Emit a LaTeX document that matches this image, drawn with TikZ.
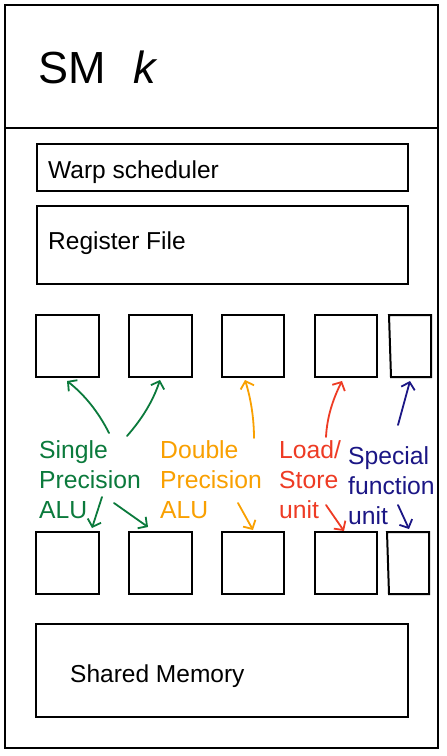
\documentclass[tikz,border=0pt]{standalone}
\usepackage{fontspec}
\setmainfont{Liberation Sans}
\usetikzlibrary{arrows.meta}
\definecolor{cgreen}{HTML}{0B7A3C}
\definecolor{corange}{HTML}{F9A001}
\definecolor{cred}{HTML}{EE3B24}
\definecolor{cnavy}{HTML}{1B1685}
\begin{document}
\begin{tikzpicture}[x=1pt,y=-1pt,
  box/.style={draw,line width=2pt,inner sep=0pt,outer sep=0pt,anchor=north west},
  sq/.style={draw,line width=2pt,inner sep=0pt,outer sep=0pt},
  boxtext/.style={anchor=base west,inner sep=0pt,font=\fontsize{24.5}{28}\selectfont},
  lbl/.style={anchor=base west,inner sep=0pt,align=left,font=\fontsize{24.7}{30}\selectfont},
  arr/.style={line width=1.8pt,line cap=round,-{Straight Barb[length=6.5pt,width=14pt]}}]
\useasboundingbox (0,0) rectangle (447,756);
\fill[white] (0,0) rectangle (447,756);
% outer SM box
\node[box,minimum width=433pt,minimum height=743pt] (sm) at (5,5) {};
\coordinate (divl) at (5,128);
\coordinate (divr) at (438,128);
\draw[line width=2pt] (divl) -- (divr);
\node[anchor=base west,inner sep=0pt,font=\fontsize{45}{45}\selectfont] (title) at (38,83) {SM};
\node[anchor=base west,inner sep=0pt,font=\fontsize{45}{45}\selectfont\itshape] (kk) at (133,83) {k};
% warp scheduler and register file
\node[box,minimum width=371pt,minimum height=47pt] (warp) at (37,144) {};
\node[boxtext] (warpt) at (48,178) {Warp scheduler};
\node[box,minimum width=371pt,minimum height=78pt] (reg) at (37,206) {};
\node[boxtext] (regt) at (48,249) {Register File};
% top row of units
\node[sq,minimum width=63pt,minimum height=62pt] (t1) at (67.5,346) {};
\node[sq,minimum width=63pt,minimum height=62pt] (t2) at (160.5,346) {};
\node[sq,minimum width=62pt,minimum height=62pt] (t3) at (253,346) {};
\node[sq,minimum width=62pt,minimum height=62pt] (t4) at (346,346) {};
\draw[line width=2pt] (389,315) -- (431,315) -- (431,377) -- (391,377) -- cycle;
% bottom row of units
\node[sq,minimum width=63pt,minimum height=62pt] (b1) at (67.5,563) {};
\node[sq,minimum width=63pt,minimum height=62pt] (b2) at (160.5,563) {};
\node[sq,minimum width=62pt,minimum height=62pt] (b3) at (253,563) {};
\node[sq,minimum width=62pt,minimum height=62pt] (b4) at (346,563) {};
\draw[line width=2pt] (387,532) -- (429,532) -- (429,594) -- (389,594) -- cycle;
% shared memory
\node[box,minimum width=372pt,minimum height=93pt] (shm) at (36,624) {};
\node[boxtext] (shmt) at (70,682) {Shared Memory};
% labels (base anchor = last line)
\node[lbl,text=cgreen] (sp) at (39,518) {Single\\Precision\\ALU};
\node[lbl,text=corange] (dp) at (160,518) {Double\\Precision\\ALU};
\node[lbl,text=cred] (ls) at (279,518) {Load/\\Store\\unit};
\node[lbl,text=cnavy] (sf) at (348,524) {Special\\function\\unit};
% arrow coordinates
\coordinate (g1s) at (109,433); \coordinate (g1e) at (67,381);
\coordinate (g2s) at (127,436); \coordinate (g2e) at (160,380);
\coordinate (g3s) at (102,497); \coordinate (g3e) at (92,528);
\coordinate (g4s) at (114,503); \coordinate (g4e) at (148,527);
\coordinate (o1s) at (254,438); \coordinate (o1e) at (245,380);
\coordinate (o2s) at (238,503); \coordinate (o2e) at (253,530);
\coordinate (r1s) at (326,437); \coordinate (r1e) at (342,381);
\coordinate (r2s) at (326,505); \coordinate (r2e) at (344,531);
\coordinate (n1s) at (398,425); \coordinate (n1e) at (410,381);
\coordinate (n2s) at (398,505); \coordinate (n2e) at (409,529);
% arrows
\draw[arr,cgreen] (g1s) .. controls (99,413) and (85,395) .. (g1e);
\draw[arr,cgreen] (g2s) .. controls (142,419) and (153,401) .. (g2e);
\draw[arr,cgreen] (g3s) -- (g3e);
\draw[arr,cgreen] (g4s) -- (g4e);
\draw[arr,corange] (o1s) .. controls (254,419) and (251,399) .. (o1e);
\draw[arr,corange] (o2s) -- (o2e);
\draw[arr,cred] (r1s) .. controls (327,417) and (333,399) .. (r1e);
\draw[arr,cred] (r2s) -- (r2e);
\draw[arr,cnavy] (n1s) -- (n1e);
\draw[arr,cnavy] (n2s) -- (n2e);
\end{tikzpicture}
\end{document}
